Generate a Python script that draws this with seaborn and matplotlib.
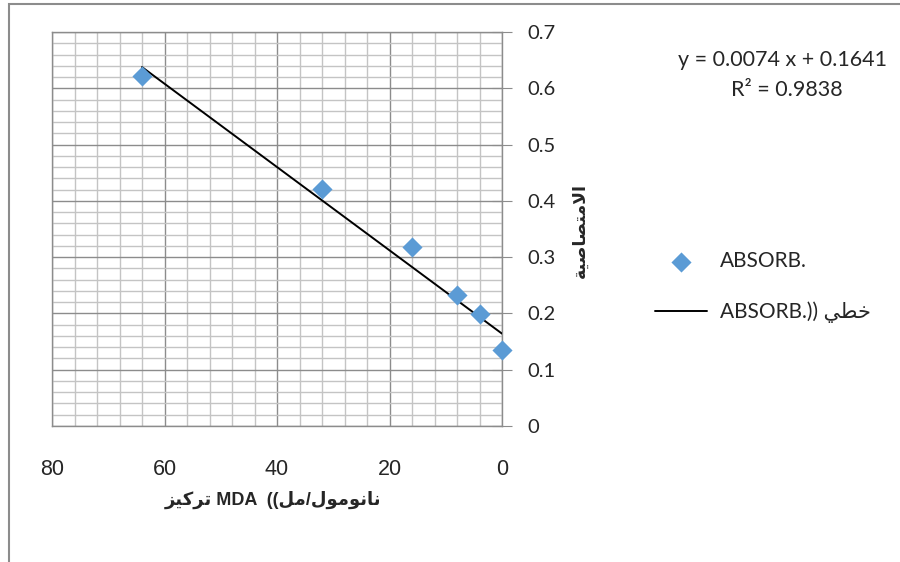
import numpy as np
import pandas as pd
import matplotlib
matplotlib.use('Agg')
import matplotlib.pyplot as plt
import seaborn as sns
from matplotlib.patches import Rectangle
from matplotlib.ticker import MultipleLocator

# данные
conc = [64, 32, 16, 8, 4, 0]                       # MDA, нмоль/мл
absorb = [0.622, 0.421, 0.318, 0.232, 0.199, 0.135]  # поглощение
slope = 0.0074
intercept = 0.1641
r2 = 0.9838
x_ticks = [80, 60, 40, 20, 0]
y_ticks = [0, 0.1, 0.2, 0.3, 0.4, 0.5, 0.6, 0.7]

# тексты (логический порядок)
ylabel_ar = 'الامتصاصية'
xlabel_ar1 = 'تركيز'
xlabel_ar2 = 'نانومول/مل'
series_name = 'ABSORB.'
trend_ar = 'خطي'

# --- простая "сборка" арабских букв (matplotlib не умеет shaping/RTL)
# iso, fin, ini, med
FORMS = {
    'ا': ('\uFE8D', '\uFE8E', None, None),
    'ل': ('\uFEDD', '\uFEDE', '\uFEDF', '\uFEE0'),
    'م': ('\uFEE1', '\uFEE2', '\uFEE3', '\uFEE4'),
    'ت': ('\uFE95', '\uFE96', '\uFE97', '\uFE98'),
    'ص': ('\uFEB9', '\uFEBA', '\uFEBB', '\uFEBC'),
    'ي': ('\uFEF1', '\uFEF2', '\uFEF3', '\uFEF4'),
    'ة': ('\uFE93', '\uFE94', None, None),
    'خ': ('\uFEA5', '\uFEA6', '\uFEA7', '\uFEA8'),
    'ط': ('\uFEC1', '\uFEC2', '\uFEC3', '\uFEC4'),
    'ن': ('\uFEE5', '\uFEE6', '\uFEE7', '\uFEE8'),
    'و': ('\uFEED', '\uFEEE', None, None),
    'ر': ('\uFEAD', '\uFEAE', None, None),
    'ك': ('\uFED9', '\uFEDA', '\uFEDB', '\uFEDC'),
    'ز': ('\uFEAF', '\uFEB0', None, None),
}


def ar(text):
    res = []
    prev_joins = False
    i = 0
    while i < len(text):
        c = text[i]
        nxt = text[i + 1] if i + 1 < len(text) else ''
        if c not in FORMS:
            res.append(c)
            prev_joins = False
            i += 1
            continue
        if c == 'ل' and nxt == 'ا':
            res.append('\uFEFC' if prev_joins else '\uFEFB')
            prev_joins = False
            i += 2
            continue
        f = FORMS[c]
        link_next = f[2] is not None and nxt in FORMS
        if prev_joins and link_next:
            g = f[3]
        elif prev_joins:
            g = f[1]
        elif link_next:
            g = f[2]
        else:
            g = f[0]
        res.append(g)
        prev_joins = f[2] is not None
        i += 1
    return ''.join(reversed(res))


df = pd.DataFrame({'conc': conc, 'absorb': absorb})
trend_x = np.array([max(conc), min(conc)])
trend_df = pd.DataFrame({'conc': trend_x, 'absorb': slope * trend_x + intercept})

sns.set_style('white')
calibri = ['Lato', 'DejaVu Sans']
arial = ['Liberation Sans', 'DejaVu Sans']
plt.rcParams['font.family'] = calibri

fig = plt.figure(figsize=(9, 5.62), dpi=100)
ax = fig.add_axes([52 / 900, 1 - 426 / 562, 450 / 900, 394 / 562])

sns.scatterplot(data=df, x='conc', y='absorb', ax=ax, marker='D', s=105,
                color='#5B9BD5', linewidth=0, label=series_name, zorder=4, clip_on=False)
sns.lineplot(data=trend_df, x='conc', y='absorb', ax=ax, color='black',
             linewidth=1.4, label=series_name + ')) ' + ar(trend_ar), zorder=3)

# оси как в Excel: x перевернута, y справа
ax.set_xlim(80, 0)
ax.set_ylim(0, 0.7)
ax.set_xticks(x_ticks)
ax.set_xticklabels([str(v) for v in x_ticks], fontfamily=arial, fontsize=15.5)
ax.set_yticks(y_ticks)
ax.set_yticklabels([f'{v:g}' for v in y_ticks])
ax.xaxis.set_minor_locator(MultipleLocator(4))
ax.yaxis.set_minor_locator(MultipleLocator(0.02))
ax.yaxis.tick_right()
ax.grid(which='major', color='#8c8c8c', linewidth=1.0)
ax.grid(which='minor', color='#c4c4c4', linewidth=1.0)
ax.set_axisbelow(True)
for sp in ax.spines.values():
    sp.set_color('#8c8c8c')
    sp.set_linewidth(1.0)

ax.tick_params(axis='x', which='major', direction='inout', length=11, color='#8c8c8c', pad=18)
ax.tick_params(axis='x', which='minor', direction='out', length=4, color='#8c8c8c')
ax.tick_params(axis='y', which='major', direction='inout', length=14, color='#8c8c8c',
               labelsize=14.5, pad=11)
ax.tick_params(axis='y', which='minor', length=0)

ax.set_xlabel('')
ax.set_ylabel('')
fig.text(273 / 900, 1 - 500 / 562, ar(xlabel_ar1) + ' MDA  ((' + ar(xlabel_ar2),
         ha='center', va='center', fontsize=13, fontweight='bold', family=arial)
fig.text(580 / 900, 1 - 230 / 562, ar(ylabel_ar), rotation=90, ha='center', va='center',
         fontsize=12.5, fontweight='bold', family=arial)

# уравнение тренда
fig.text(782 / 900, 1 - 60 / 562, f'y = {slope:.4f} x + {intercept:.4f}',
         ha='center', va='center', fontsize=15.5)
fig.text(787 / 900, 1 - 90 / 562, f'R² = {r2:.4f}', ha='center', va='center', fontsize=15.5)

# легенда
h, l = ax.get_legend_handles_labels()
fig.legend(h, l, loc='center left', bbox_to_anchor=(655 / 900, 1 - 287 / 562),
           frameon=False, fontsize=15, handlelength=2.5, handletextpad=0.6,
           labelspacing=1.45, borderpad=0, borderaxespad=0)
ax.get_legend().remove()

# рамка области диаграммы
fig.patches.append(Rectangle((9 / 900, -0.2), 1.2, 1.2 - 4 / 562,
                             transform=fig.transFigure, fill=False,
                             edgecolor='#8c8c8c', linewidth=1.5))

plt.savefig('out.png', dpi=100)
